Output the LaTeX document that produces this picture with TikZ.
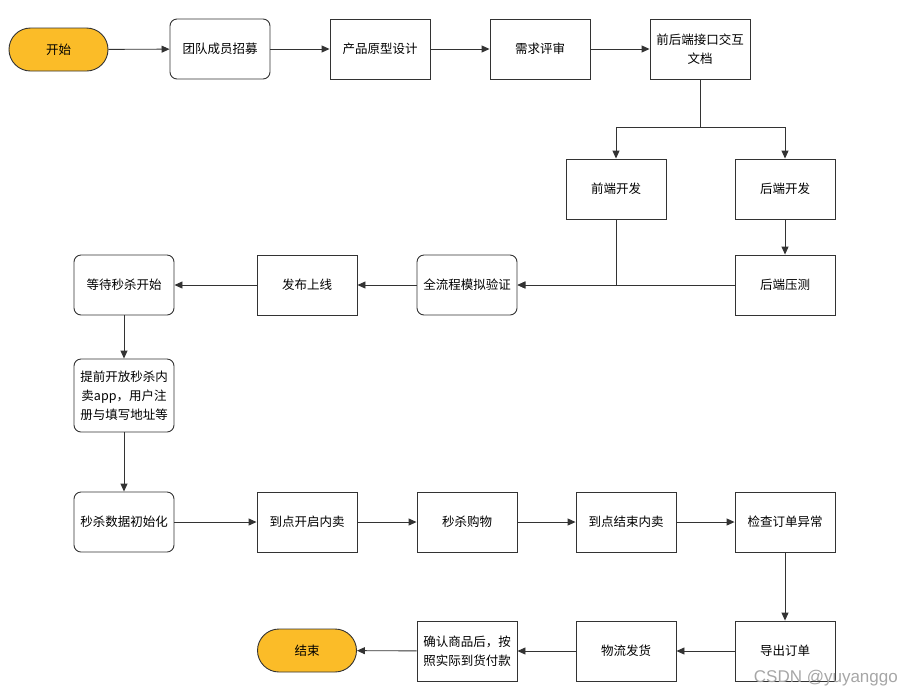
\documentclass[tikz,border=0pt]{standalone}
\usepackage{fontspec}
\newfontfamily\cjk{Noto Sans CJK SC}
\usetikzlibrary{arrows.meta}
\definecolor{lc}{RGB}{51,51,51}
\definecolor{yel}{RGB}{251,188,40}
\tikzset{
  box/.style={draw=lc, line width=0.9pt, minimum width=100pt, minimum height=60pt, inner sep=2pt, align=center, font=\cjk\fontsize{12.5}{19}\selectfont, text=black},
  rbox/.style={box, rounded corners=7pt},
  term/.style={box, rounded corners=21.5pt, fill=yel, minimum width=99pt, minimum height=43pt},
  conn/.style={draw=lc, line width=0.9pt, -{Triangle[length=8pt,width=7pt]}},
  line/.style={draw=lc, line width=0.9pt}
}
\begin{document}
\begin{tikzpicture}[x=1pt,y=-1pt]
\useasboundingbox (0,0) rectangle (912,697);
\node[term] (start) at (58.5,49.5) {开始};
\node[rbox] (team) at (220,49) {团队成员招募};
\node[box] (proto) at (380,49) {产品原型设计};
\node[box] (req) at (540,49) {需求评审};
\node[box] (doc) at (700,49) {前后端接口交互\\文档};
\node[box] (fe) at (616,189) {前端开发};
\node[box] (be) at (785,189) {后端开发};
\node[box] (stress) at (785,285) {后端压测};
\node[rbox] (sim) at (467,285) {全流程模拟验证};
\node[box] (release) at (307,285) {发布上线};
\node[rbox] (wait) at (124,285) {等待秒杀开始};
\node[rbox, minimum height=73pt] (open) at (124,395.5) {提前开放秒杀内\\卖app，用户注\\册与填写地址等};
\node[rbox] (init) at (124,522) {秒杀数据初始化};
\node[box] (begin) at (307,522) {到点开启内卖};
\node[box] (shop) at (467,522) {秒杀购物};
\node[box] (stop) at (626,522) {到点结束内卖};
\node[box] (check) at (785,522) {检查订单异常};
\node[box] (export) at (785,651) {导出订单};
\node[box] (ship) at (626,651) {物流发货};
\node[box] (pay) at (467,651) {确认商品后，按\\照实际到货付款};
\node[term] (end) at (307,650.5) {结束};
\coordinate (fork) at (700,127);
\draw[conn] (start) -- (team);
\draw[conn] (team) -- (proto);
\draw[conn] (proto) -- (req);
\draw[conn] (req) -- (doc);
\draw[line] (doc.south) -- (fork);
\draw[conn] (fork) -| (fe.north);
\draw[conn] (fork) -| (be.north);
\draw[conn] (be) -- (stress);
\draw[conn] (fe.south) |- (sim.east);
\draw[conn] (stress) -- (sim);
\draw[conn] (sim) -- (release);
\draw[conn] (release) -- (wait);
\draw[conn] (wait) -- (open);
\draw[conn] (open) -- (init);
\draw[conn] (init) -- (begin);
\draw[conn] (begin) -- (shop);
\draw[conn] (shop) -- (stop);
\draw[conn] (stop) -- (check);
\draw[conn] (check) -- (export);
\draw[conn] (export) -- (ship);
\draw[conn] (ship) -- (pay);
\draw[conn] (pay) -- (end);
\node[text=black!35, font=\fontspec{Liberation Sans}\fontsize{17}{17}\selectfont, anchor=east, inner sep=0pt] (wm) at (898,678) {CSDN @yuyanggo};
\end{tikzpicture}
\end{document}
